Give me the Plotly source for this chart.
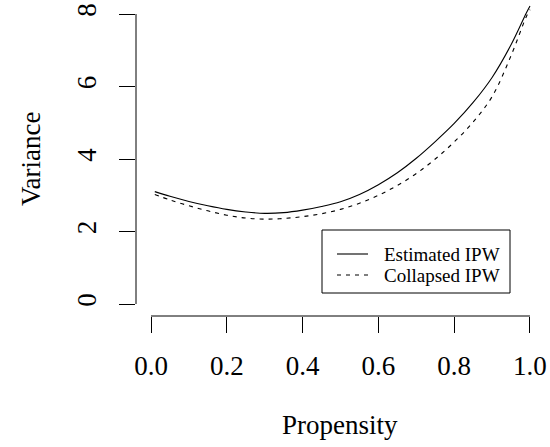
import plotly.graph_objects as go

propensity = [0.01, 0.05, 0.10, 0.15, 0.20, 0.25, 0.30, 0.35, 0.40, 0.45, 0.50,
              0.55, 0.60, 0.65, 0.70, 0.75, 0.80, 0.85, 0.90, 0.95, 0.99, 1.00]
estimated_ipw = [3.10, 2.97, 2.83, 2.71, 2.61, 2.54, 2.50, 2.52, 2.59, 2.69, 2.82,
                 3.02, 3.29, 3.62, 4.02, 4.48, 4.98, 5.56, 6.25, 7.15, 8.02, 8.22]
collapsed_ipw = [3.02, 2.87, 2.71, 2.57, 2.45, 2.37, 2.34, 2.36, 2.41, 2.49, 2.61,
                 2.78, 3.00, 3.27, 3.60, 4.00, 4.47, 5.02, 5.72, 6.85, 7.92, 8.12]
x_ticks = [0.0, 0.2, 0.4, 0.6, 0.8, 1.0]
x_tick_labels = ["0.0", "0.2", "0.4", "0.6", "0.8", "1.0"]
y_ticks = [0, 2, 4, 6, 8]
y_tick_labels = ["0", "2", "4", "6", "8"]
series_names = ["Estimated IPW", "Collapsed IPW"]

FONT = "Liberation Serif"
DASH = "4px,5px"

fig = go.Figure()
fig.add_trace(go.Scatter(x=propensity, y=estimated_ipw, mode="lines",
                         name=series_names[0], showlegend=False,
                         line=dict(color="black", width=1.1, shape="spline")))
fig.add_trace(go.Scatter(x=propensity, y=collapsed_ipw, mode="lines",
                         name=series_names[1], showlegend=False,
                         line=dict(color="black", width=1.1, dash=DASH, shape="spline")))

# plot area in pixels: x 136..545, y 2..316
L, R, T, B = 136, 5, 2, 131
PW, PH = 550 - L - R, 447 - T - B


def px(x):
    return (x - L) / PW


def py(y):
    return (T + PH - y) / PH


fig.update_layout(
    width=550, height=447,
    margin=dict(l=L, r=R, t=T, b=B, autoexpand=False),
    paper_bgcolor="white", plot_bgcolor="white",
    font=dict(family=FONT, color="black", size=27),
    showlegend=False,
    xaxis=dict(range=[-0.0396, 1.0396], tickvals=x_ticks, ticktext=x_tick_labels,
               ticks="outside", ticklen=16, tickwidth=1, tickcolor="black",
               showgrid=False, zeroline=False, showline=False, automargin=False,
               tickfont=dict(family=FONT, size=27), ticklabelstandoff=10),
    yaxis=dict(range=[-0.331, 8.331], tickvals=y_ticks, ticktext=y_tick_labels,
               ticks="outside", ticklen=16, tickwidth=1, tickcolor="black",
               showgrid=False, zeroline=False, showline=False, tickangle=-90,
               automargin=False,
               tickfont=dict(family=FONT, size=27), ticklabelstandoff=12),
)

# axis lines spanning only the tick range (R style)
fig.add_shape(type="line", xref="x", yref="paper", x0=x_ticks[0], x1=x_ticks[-1],
              y0=0, y1=0, line=dict(color="black", width=1))
fig.add_shape(type="line", xref="paper", yref="y", x0=0, x1=0,
              y0=y_ticks[0], y1=y_ticks[-1], line=dict(color="black", width=1))

# axis titles
fig.add_annotation(text="Propensity", xref="paper", yref="paper",
                   x=px(340), y=py(425), showarrow=False,
                   font=dict(family=FONT, size=27), xanchor="center", yanchor="middle")
fig.add_annotation(text="Variance", xref="paper", yref="paper",
                   x=px(31), y=py(159), showarrow=False, textangle=-90,
                   font=dict(family=FONT, size=27), xanchor="center", yanchor="middle")

# legend box (R style)
fig.add_shape(type="rect", xref="paper", yref="paper",
              x0=px(322), x1=px(510), y0=py(293), y1=py(230),
              line=dict(color="black", width=1), fillcolor="white", layer="above")
row_y = [254, 275]
dashes = ["solid", DASH]
for name, ry, d in zip(series_names, row_y, dashes):
    fig.add_shape(type="line", xref="paper", yref="paper",
                  x0=px(337), x1=px(368), y0=py(ry), y1=py(ry),
                  line=dict(color="black", width=1.1, dash=d), layer="above")
    fig.add_annotation(text=name, xref="paper", yref="paper",
                       x=px(382), y=py(ry), showarrow=False,
                       xanchor="left", yanchor="middle",
                       font=dict(family=FONT, size=19, color="black"))

fig.write_html("out.html", config={"displayModeBar": False},
               post_script="document.body.style.margin='0';document.body.style.overflow='hidden';")
